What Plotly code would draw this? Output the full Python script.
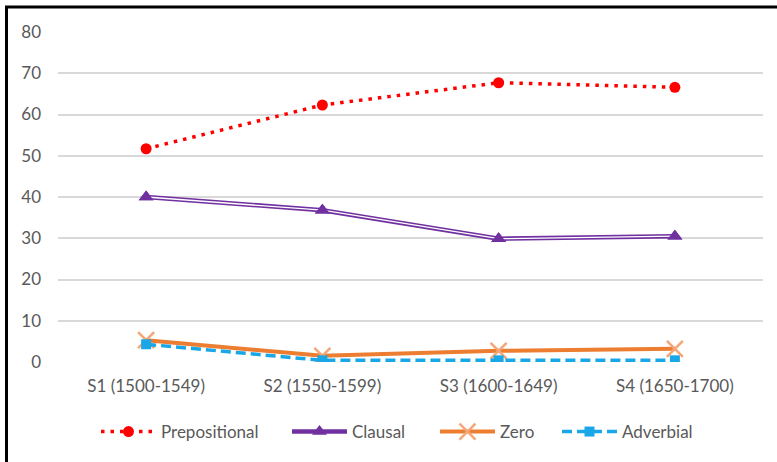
import plotly.graph_objects as go

categories = ["S1 (1500-1549)", "S2 (1550-1599)", "S3 (1600-1649)", "S4 (1650-1700)"]
prepositional = [51.7, 62.3, 67.7, 66.6]
clausal = [40.0, 36.8, 29.9, 30.5]
zero = [5.3, 1.5, 2.7, 3.2]
adverbial = [4.3, 0.4, 0.4, 0.4]
y_ticks = [0, 10, 20, 30, 40, 50, 60, 70, 80]

W, H = 777, 462
L, R, T, B = 58, 14, 32, 100
pw, ph = W - L - R, H - T - B

def px(x):
    return (x - L) / pw

def py(y):
    return (H - B - y) / ph

fig = go.Figure()

fig.add_trace(go.Scatter(
    x=categories, y=prepositional, name="Prepositional", mode="lines+markers",
    line=dict(color="#FF0000", width=3.5, dash="3.5px,6px"),
    marker=dict(symbol="circle", size=11, color="#FF0000"), legend="legend",
))
fig.add_trace(go.Scatter(
    x=categories, y=clausal, name="Clausal", mode="lines+markers",
    line=dict(color="#7030A0", width=4.5),
    marker=dict(symbol="triangle-up", size=13, color="#7030A0"), legend="legend2",
))
fig.add_trace(go.Scatter(
    x=categories, y=clausal, name="Clausal", mode="lines", showlegend=False,
    line=dict(color="#FFFFFF", width=1.3), hoverinfo="skip",
))
fig.add_trace(go.Scatter(
    x=categories, y=clausal, name="Clausal", mode="markers", showlegend=False,
    marker=dict(symbol="triangle-up", size=13, color="#7030A0"), hoverinfo="skip",
))
fig.add_trace(go.Scatter(
    x=categories, y=zero, name="Zero", mode="lines+markers",
    line=dict(color="#ED7D31", width=4),
    marker=dict(symbol="x-thin", size=16, line=dict(color="#F4A676", width=2.5), color="#ED7D31"),
    legend="legend3",
))
fig.add_trace(go.Scatter(
    x=categories, y=adverbial, name="Adverbial", mode="lines+markers",
    line=dict(color="#1AA7E8", width=3.5, dash="10px,5px"),
    marker=dict(symbol="square", size=10, color="#1AA7E8"), legend="legend4",
))

font_col = "#595959"
fs = 17

def leg(x_px):
    return dict(orientation="h", x=px(x_px), xanchor="left", y=py(432), yanchor="middle",
                itemwidth=55, font=dict(size=fs, color=font_col), bgcolor="rgba(0,0,0,0)")

fig.update_layout(
    width=W, height=H,
    margin=dict(l=L, r=R, t=T, b=B, autoexpand=False),
    paper_bgcolor="white", plot_bgcolor="white",
    font=dict(family="Lato, Open Sans, sans-serif", size=fs, color=font_col),
    showlegend=True,
    legend=leg(96), legend2=leg(287), legend3=leg(435), legend4=leg(557),
    xaxis=dict(range=[-0.5, 3.5], showgrid=False, zeroline=False, showline=False, ticks="",
               ticklabelstandoff=12, tickfont=dict(size=fs, color=font_col)),
    yaxis=dict(range=[0, 80], tickvals=y_ticks, showgrid=True, gridcolor="#D9D9D9", gridwidth=2,
               zeroline=False, showline=False, ticks="", ticklabelstandoff=16,
               tickfont=dict(size=fs, color=font_col)),
    shapes=[
        dict(type="line", xref="paper", yref="paper", x0=px(6.5), x1=px(6.5), y0=py(6), y1=py(H),
             line=dict(color="black", width=3)),
        dict(type="line", xref="paper", yref="paper", x0=px(5), x1=px(W), y0=py(7), y1=py(7),
             line=dict(color="black", width=3)),
    ],
)
fig.write_html("out.html", config={"displayModeBar": False},
               post_script="document.body.style.margin='0';document.body.style.overflow='hidden';")
